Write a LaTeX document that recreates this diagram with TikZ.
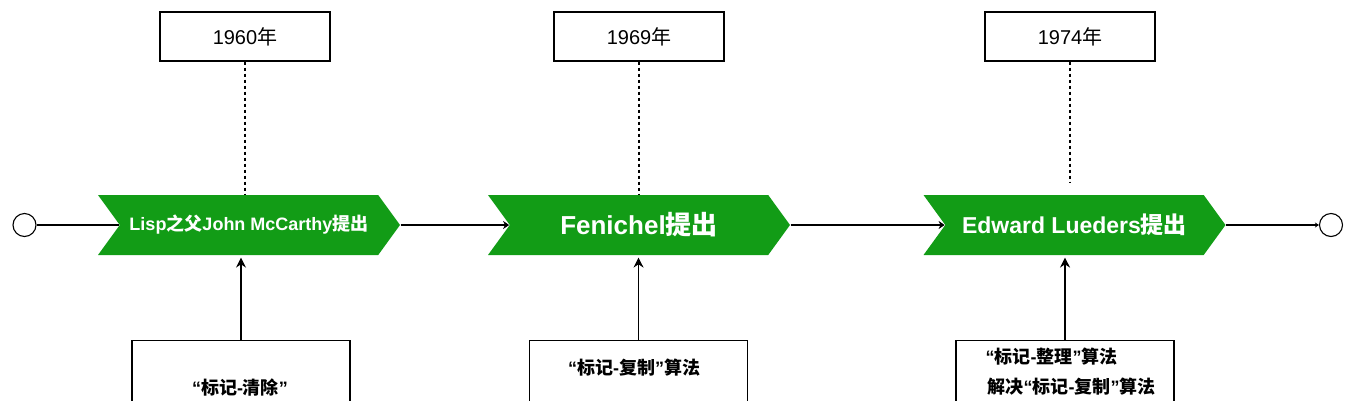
\documentclass[tikz,border=0pt]{standalone}
\usepackage{fontspec}
\setmainfont{Liberation Sans}
\newfontfamily\cjk{Noto Sans CJK SC}
\usetikzlibrary{shapes.symbols,arrows.meta}
\definecolor{evgreen}{RGB}{18,156,22}
\newcommand{\zh}[1]{{\cjk #1}}

\begin{document}
\begin{tikzpicture}[x=1pt,y=-1pt,line width=1.1pt]
        \tikzstyle{every node} = [inner sep=0pt]
        \tikzstyle{yearbox} = [draw, rectangle, minimum width=170pt, minimum height=49pt, font=\fontsize{20}{24}\selectfont]
        \tikzstyle{event} = [signal, signal from=west, signal to=east, signal pointer angle=108, fill=evgreen, text=white, minimum width=302pt, minimum height=60pt]
        \tikzstyle{notebox} = [draw, rectangle, minimum width=218pt, minimum height=140pt, anchor=north]
        \tikzstyle{note} = [font=\bfseries\fontsize{18}{22}\selectfont]
        \tikzstyle{endpoint} = [draw, circle, minimum size=23pt]
        \clip (0,0) rectangle (1357,400);
        \node[endpoint] (start) at (24.5,225) {};
        \node[endpoint] (stop) at (1331,225) {};
        \node[event, font=\bfseries\fontsize{18}{22}\selectfont] (ev1) at (249,225) {Lisp\zh{之父}John McCarthy\zh{提出}};
        \node[event, font=\bfseries\fontsize{26}{30}\selectfont] (ev2) at (639,225) {Fenichel\zh{提出}};
        \node[event, font=\bfseries\fontsize{23}{28}\selectfont] (ev3) at (1074.5,225) {Edward Lueders\zh{提出}};
        \node[yearbox] (y1) at (245,36.5) {1960\zh{年}};
        \node[yearbox] (y2) at (639,36.5) {1969\zh{年}};
        \node[yearbox] (y3) at (1070,36.5) {1974\zh{年}};
        \node[notebox] (n1) at (241,340) {};
        \node[notebox] (n2) at (638.5,340) {};
        \node[notebox] (n3) at (1065,340) {};
        \node[note] (t1) at (240,388) {“\zh{标记}-\zh{清除}”};
        \node[note] (t2) at (634,368) {“\zh{标记}-\zh{复制}”\zh{算法}};
        \node[note, anchor=west] (t3a) at (985,357) {“\zh{标记}-\zh{整理}”\zh{算法}};
        \node[note, anchor=west] (t3b) at (987,387) {\zh{解决}“\zh{标记}-\zh{复制}”\zh{算法}};
        \coordinate (y3end) at (1070,182);
        \draw (start) -- (ev1.west);
        \foreach \from/\to in {ev1/ev2, ev2/ev3}
            \draw[-{Stealth[length=6pt,width=8pt]}] (\from.east) -- (\to.west);
        \draw[-{Stealth[length=4pt,width=5pt]}] (ev3.east) -- (stop);
        \foreach \year/\event in {y1/ev1, y2/ev2}
            \draw[dash pattern=on 3pt off 3pt] (\year.south) -- (\year.south |- \event.north);
        \draw[dash pattern=on 3pt off 3pt] (y3.south) -- (y3end);
        \foreach \note/\event in {n1/ev1, n2/ev2, n3/ev3}
            \draw[-{Stealth[length=10pt,width=10pt]}, shorten >=2pt] (\note.north) -- (\note.north |- \event.south);
    \end{tikzpicture}
\end{document}
